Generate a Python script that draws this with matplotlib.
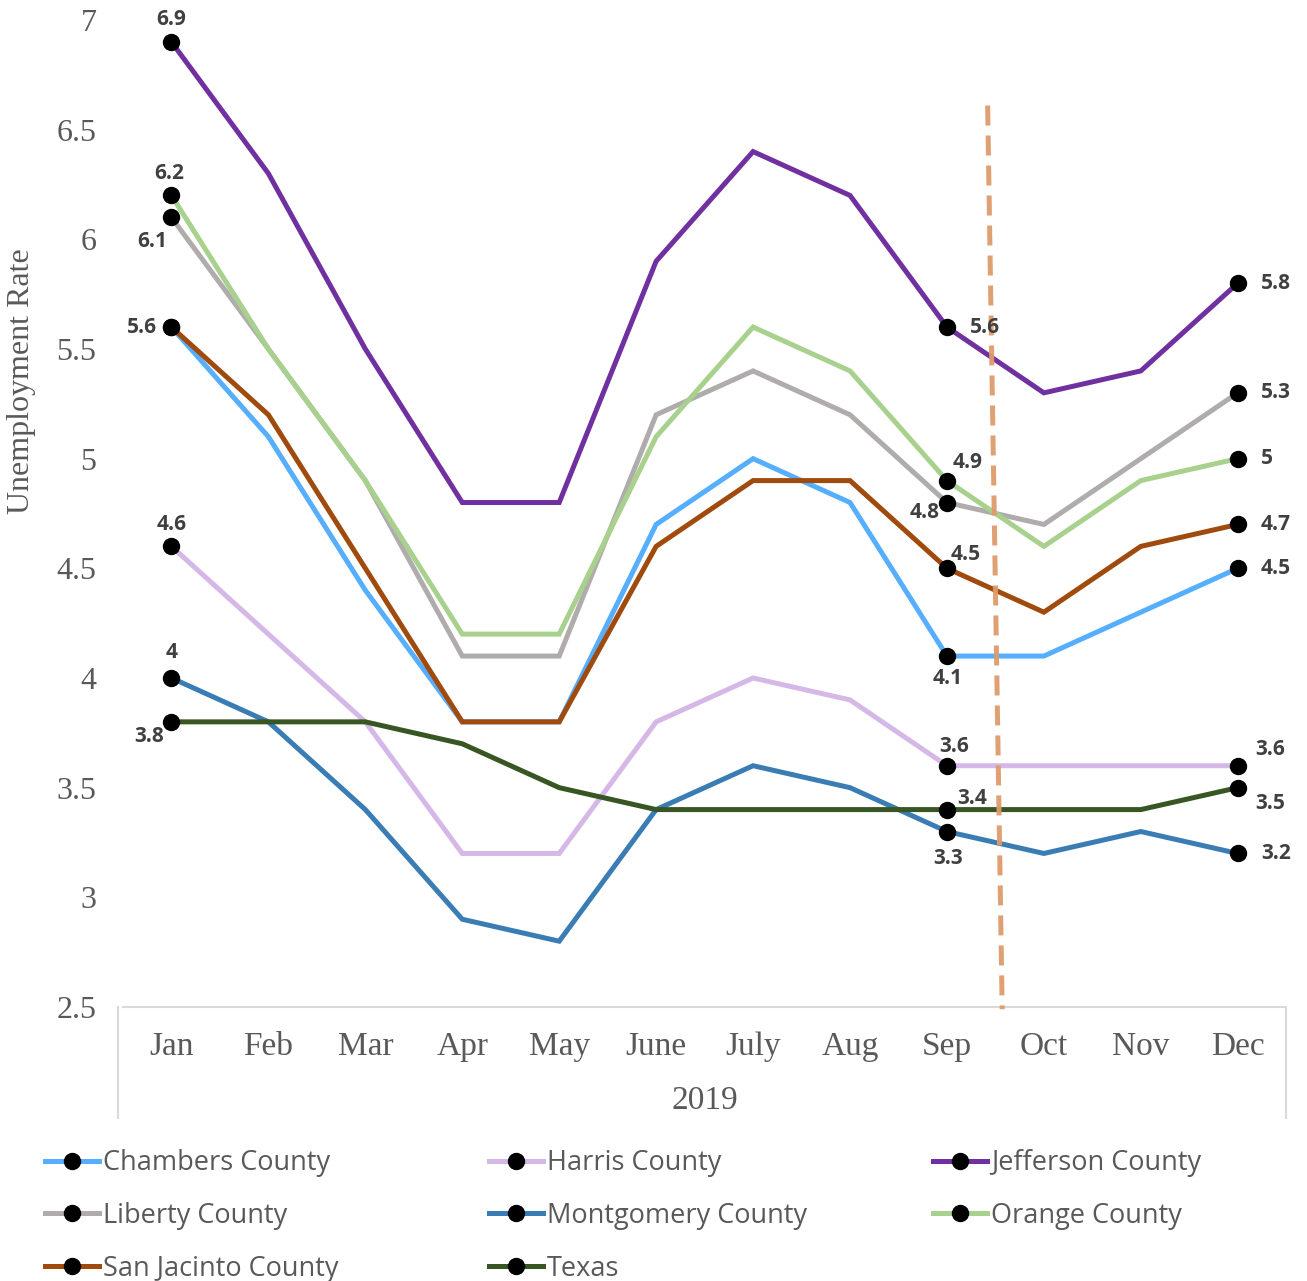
import matplotlib
matplotlib.use("Agg")
import matplotlib.pyplot as plt
from matplotlib.lines import Line2D

months = ["Jan", "Feb", "Mar", "Apr", "May", "June", "July", "Aug", "Sep", "Oct", "Nov", "Dec"]

chambers = [5.6, 5.1, 4.4, 3.8, 3.8, 4.7, 5.0, 4.8, 4.1, 4.1, 4.3, 4.5]
harris = [4.6, 4.2, 3.8, 3.2, 3.2, 3.8, 4.0, 3.9, 3.6, 3.6, 3.6, 3.6]
jefferson = [6.9, 6.3, 5.5, 4.8, 4.8, 5.9, 6.4, 6.2, 5.6, 5.3, 5.4, 5.8]
liberty = [6.1, 5.5, 4.9, 4.1, 4.1, 5.2, 5.4, 5.2, 4.8, 4.7, 5.0, 5.3]
montgomery = [4.0, 3.8, 3.4, 2.9, 2.8, 3.4, 3.6, 3.5, 3.3, 3.2, 3.3, 3.2]
orange = [6.2, 5.5, 4.9, 4.2, 4.2, 5.1, 5.6, 5.4, 4.9, 4.6, 4.9, 5.0]
san_jacinto = [5.6, 5.2, 4.5, 3.8, 3.8, 4.6, 4.9, 4.9, 4.5, 4.3, 4.6, 4.7]
texas = [3.8, 3.8, 3.8, 3.7, 3.5, 3.4, 3.4, 3.4, 3.4, 3.4, 3.4, 3.5]

series = [
    ("Chambers County", chambers, "#56AEFF"),
    ("Harris County", harris, "#D5B8E8"),
    ("Jefferson County", jefferson, "#7030A0"),
    ("Liberty County", liberty, "#B0ACAC"),
    ("Montgomery County", montgomery, "#3A7CB4"),
    ("Orange County", orange, "#A9D18E"),
    ("San Jacinto County", san_jacinto, "#A04A0E"),
    ("Texas", texas, "#375623"),
]

marked = [0, 8, 11]

# label offsets in pixels (dx, dy, ha) for each marked point
label_pos = {
    "Chambers County": {8: (1, -22, "center"), 11: (23, 0, "left")},
    "Harris County": {0: (0, 22, "center"), 8: (7, 19, "center"), 11: (17, 16, "left")},
    "Jefferson County": {0: (0, 22, "center"), 8: (23, 0, "left"), 11: (23, 0, "left")},
    "Liberty County": {0: (-19, -24, "center"), 8: (-22, -10, "center"), 11: (23, 0, "left")},
    "Montgomery County": {0: (0, 25, "center"), 8: (1, -27, "center"), 11: (23, 0, "left")},
    "Orange County": {0: (-2, 22, "center"), 8: (21, 18, "center"), 11: (23, 0, "left")},
    "San Jacinto County": {0: (-30, 0, "center"), 8: (19, 14, "center"), 11: (23, 0, "left")},
    "Texas": {0: (-22, -15, "center"), 8: (25, 11, "center"), 11: (17, -16, "left")},
}

# dashed divider between Sep and Oct
divider_x = [8.42, 8.57]
divider_y = [6.61, 2.49]

fig = plt.figure(figsize=(13.07, 12.81), dpi=100)
ax = fig.add_axes([0.0941, 0.2139, 0.8900, 0.7705])

serif = "Liberation Serif"
gray = "#595959"

lines = {}
for name, vals, color in series:
    ln, = ax.plot(range(len(months)), vals, color=color, lw=3.6,
                  marker="o", markevery=marked, markersize=11.5,
                  markerfacecolor="black", markeredgecolor="black",
                  solid_joinstyle="miter", label=name, zorder=3)
    lines[name] = ln
    for i, (dx, dy, ha) in label_pos[name].items():
        ax.annotate(f"{vals[i]:g}", (i, vals[i]), xytext=(dx, dy),
                    textcoords="offset pixels", ha=ha, va="center",
                    fontsize=15, fontweight="bold", color="#404040",
                    family="Open Sans", zorder=5)

ax.plot(divider_x, divider_y, color="#DE9B6B", lw=3.6, ls=(0, (4, 2)),
        alpha=0.95, clip_on=False, zorder=4)

ax.set_xlim(-0.5, len(months) - 0.5)
ax.set_ylim(2.5, 7)
ax.set_yticks([2.5, 3, 3.5, 4, 4.5, 5, 5.5, 6, 6.5, 7])
ax.set_yticklabels(["2.5", "3", "3.5", "4", "4.5", "5", "5.5", "6", "6.5", "7"])
ax.tick_params(axis="y", length=0, pad=19, labelsize=23, labelcolor=gray)
ax.set_xticks(range(len(months)))
ax.set_xticklabels(months)
ax.tick_params(axis="x", length=0, pad=18, labelsize=24, labelcolor=gray)
for lab in ax.get_xticklabels() + ax.get_yticklabels():
    lab.set_family(serif)

for s in ["top", "right", "left"]:
    ax.spines[s].set_visible(False)
ax.spines["bottom"].set_color("#D9D9D9")
ax.spines["bottom"].set_linewidth(1.5)

# category box under the axis
for xa in [-0.004, 1.0]:
    ax.add_line(Line2D([xa, xa], [0, -0.1125], transform=ax.transAxes,
                       color="#D9D9D9", lw=1.5, clip_on=False))
ax.text(0.5, -0.095, "2019", transform=ax.transAxes, ha="center", va="center",
        fontsize=24, color=gray, family=serif)

fig.text(22 / 1307, 1 - 381 / 1281, "Unemployment Rate", rotation=90,
         ha="center", va="center", fontsize=23, color=gray, family=serif)

# legend, three columns placed by hand (row-major order like the original)
columns = [
    ["Chambers County", "Liberty County", "San Jacinto County"],
    ["Harris County", "Montgomery County", "Texas"],
    ["Jefferson County", "Orange County"],
]
col_x = [45, 489, 933]
for names, cx in zip(columns, col_x):
    handles = [Line2D([], [], color=lines[n].get_color(), lw=3.6, marker="o",
                      markersize=11.5, markerfacecolor="black",
                      markeredgecolor="black") for n in names]
    fig.legend(handles, names, loc="upper left",
               bbox_to_anchor=(cx / 1307, 1 - 1149 / 1281),
               frameon=False, prop={"family": "Open Sans", "size": 19.5},
               handlelength=2.0, handletextpad=0.14, labelspacing=0.92,
               borderpad=0, borderaxespad=0, labelcolor=gray)

fig.savefig("out.png", dpi=100)
